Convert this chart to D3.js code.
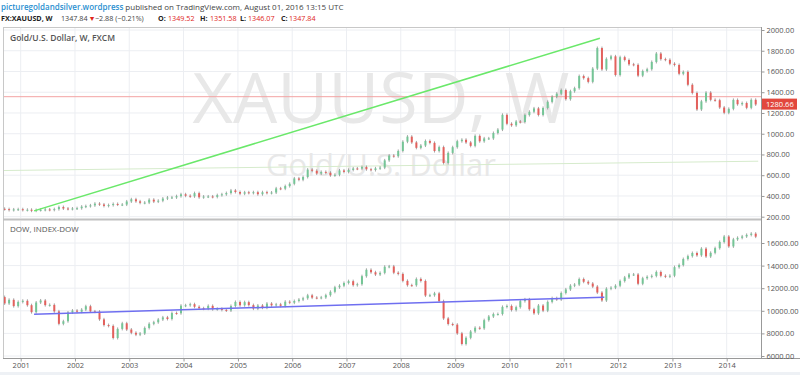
<!DOCTYPE html>
<html>
<head>
<meta charset="utf-8">
<title>XAUUSD vs DOW</title>
<script src="https://cdn.jsdelivr.net/npm/d3@7"></script>
<style>
body { margin: 0; background: #fff; font-family: "Open Sans", sans-serif; }
svg text { font-family: "Open Sans", sans-serif; }
</style>
</head>
<body>
<div id="chart"></div>
<script>

// monthly closes, first bar is Sep 2000
var firstMonth = [2000, 8];
var goldOpen0 = 276;
var goldClose = [
  273, 264, 270, 272,
  265, 267, 258, 264, 266, 270, 266, 273, 293, 279, 275, 279,
  282, 297, 302, 309, 326, 318, 304, 312, 323, 317, 317, 347,
  368, 348, 334, 336, 364, 346, 354, 375, 385, 386, 398, 416,
  402, 396, 427, 387, 394, 395, 391, 408, 416, 428, 453, 438,
  422, 435, 429, 436, 417, 436, 429, 433, 473, 470, 495, 517,
  569, 556, 583, 654, 643, 616, 632, 624, 599, 604, 646, 632,
  651, 665, 663, 679, 657, 650, 666, 673, 743, 789, 783, 834,
  923, 972, 916, 864, 886, 930, 912, 833, 871, 718, 815, 870,
  928, 942, 916, 883, 979, 927, 955, 955, 1007, 1040, 1182, 1096,
  1081, 1118, 1113, 1180, 1212, 1244, 1181, 1248, 1307, 1357, 1386, 1421,
  1333, 1410, 1439, 1556, 1536, 1500, 1628, 1826, 1620, 1722, 1746, 1566,
  1738, 1711, 1669, 1664, 1560, 1604, 1622, 1692, 1773, 1719, 1713, 1675,
  1663, 1578, 1596, 1472, 1393, 1234, 1312, 1396, 1327, 1323, 1253, 1202,
  1240, 1326, 1284, 1296, 1250, 1327, 1282
];

var dowOpen0 = 11215;
var dowClose = [
  10651, 10971, 10415, 10787,
  10887, 10495, 9879, 10735, 10912, 10502, 10523, 9950, 8848, 9075, 9852, 10022,
  9920, 10106, 10404, 9946, 9925, 9243, 8737, 8664, 7592, 8397, 8896, 8342,
  8054, 7891, 7992, 8480, 8850, 8985, 9234, 9416, 9275, 9801, 9782, 10454,
  10488, 10584, 10358, 10226, 10188, 10435, 10140, 10174, 10080, 10027, 10428, 10783,
  10490, 10766, 10504, 10193, 10467, 10275, 10641, 10482, 10569, 10440, 10806, 10718,
  10865, 10993, 11109, 11367, 11168, 11150, 11186, 11381, 11679, 12081, 12222, 12463,
  12622, 12269, 12354, 13063, 13628, 13409, 13212, 13358, 13896, 13930, 13372, 13265,
  12650, 12266, 12263, 12820, 12638, 11350, 11378, 11544, 10851, 9325, 8829, 8776,
  8001, 7063, 7609, 8168, 8500, 8447, 9172, 9496, 9712, 9713, 10345, 10428,
  10067, 10325, 10857, 11009, 10137, 9774, 10466, 10015, 10788, 11118, 11006, 11578,
  11892, 12226, 12320, 12811, 12570, 12414, 12143, 11614, 10913, 11955, 12046, 12218,
  12633, 12952, 13212, 13214, 12393, 12880, 13009, 13091, 13437, 13096, 13026, 13104,
  13861, 14054, 14579, 14840, 15116, 14910, 15500, 14810, 15130, 15546, 16086, 16577,
  15699, 16322, 16458, 16581, 16717, 16827, 16563
];

var years = [2001, 2002, 2003, 2004, 2005, 2006, 2007, 2008, 2009, 2010, 2011, 2012, 2013, 2014];
var goldTicks = [200, 400, 600, 800, 1000, 1200, 1400, 1600, 1800, 2000];
var dowTicks = [6000, 8000, 10000, 12000, 14000, 16000];

// drawn lines: [year, month, value]
var goldTrend = [[2001, 3, 256], [2011, 8, 1921]];
var goldFaint = [[2000, 8, 645], [2014, 7, 735]];
var goldLevel = 1357;
var dowTrend = [[2001, 3, 9700], [2011, 9, 11200]];
var lastGold = 1280.66;

var W = 800, H = 375;
var left = 3, right = 761;
var top1 = 27, bot1 = 218, top2 = 221, bot2 = 358;

var svg = d3.select("#chart").append("svg")
    .attr("width", W).attr("height", H);

svg.append("rect").attr("x", 0).attr("y", 372).attr("width", W).attr("height", 3).attr("fill", "#eef1f5");

var x = d3.scaleTime()
    .domain([new Date(2001, 0, 1), new Date(2014, 0, 1)])
    .range([20.7, 726.7]);
var y1 = d3.scaleLinear().domain([200, 2000]).range([216.7, 30]);
var y2 = d3.scaleLinear().domain([6000, 16000]).range([356, 243]);

function monthDate(i) { return new Date(firstMonth[0], firstMonth[1] + i, 15); }

// clip paths
var defs = svg.append("defs");
defs.append("clipPath").attr("id", "c1").append("rect")
    .attr("x", left).attr("y", top1).attr("width", right - left).attr("height", bot1 - top1);
defs.append("clipPath").attr("id", "c2").append("rect")
    .attr("x", left).attr("y", top2).attr("width", right - left).attr("height", bot2 - top2);

var p1 = svg.append("g").attr("clip-path", "url(#c1)");
var p2 = svg.append("g").attr("clip-path", "url(#c2)");

// grid
[[p1, y1, goldTicks, top1, bot1], [p2, y2, dowTicks, top2, bot2]].forEach(function(p) {
  p[0].selectAll(".vg").data(years).enter().append("line")
      .attr("x1", function(d) { return x(new Date(d, 0, 1)); })
      .attr("x2", function(d) { return x(new Date(d, 0, 1)); })
      .attr("y1", p[3]).attr("y2", p[4])
      .attr("stroke", "#eceef2").attr("stroke-width", 1);
  p[0].selectAll(".hg").data(p[2]).enter().append("line")
      .attr("x1", left).attr("x2", right)
      .attr("y1", function(d) { return p[1](d); })
      .attr("y2", function(d) { return p[1](d); })
      .attr("stroke", "#eceef2").attr("stroke-width", 1);
});

// watermark
p1.append("text").attr("x", 381).attr("y", 123).attr("text-anchor", "middle")
    .attr("font-size", 70).attr("fill", "#e8e8e8").text("XAUUSD, W");
p1.append("text").attr("x", 381).attr("y", 176).attr("text-anchor", "middle")
    .attr("font-size", 31).attr("fill", "#e8e8e8").text("Gold/U.S. Dollar");

function lineOf(pts, ys) {
  return d3.line()
    .x(function(d) { return x(new Date(d[0], d[1], 1)); })
    .y(function(d) { return ys(d[2]); })(pts);
}

p1.append("path").attr("d", lineOf(goldFaint, y1))
    .attr("stroke", "#d6ebcc").attr("stroke-width", 1).attr("fill", "none");
p1.append("line").attr("x1", left).attr("x2", right)
    .attr("y1", y1(goldLevel)).attr("y2", y1(goldLevel))
    .attr("stroke", "#f3a3a3").attr("stroke-width", 1);

// candles
function candles(g, close, open0, ys) {
  var bars = close.map(function(c, i) {
    return { date: monthDate(i), open: i ? close[i - 1] : open0, close: c };
  });
  g.selectAll(".wick").data(bars).enter().append("line")
      .attr("x1", function(d) { return x(d.date); })
      .attr("x2", function(d) { return x(d.date); })
      .attr("y1", function(d) { return ys(Math.max(d.open, d.close)) - 1.5; })
      .attr("y2", function(d) { return ys(Math.min(d.open, d.close)) + 1.5; })
      .attr("stroke", "#666").attr("stroke-width", 0.6);
  g.selectAll(".body").data(bars).enter().append("rect")
      .attr("x", function(d) { return x(d.date) - 1; })
      .attr("width", 2)
      .attr("y", function(d) { return ys(Math.max(d.open, d.close)); })
      .attr("height", function(d) { return Math.max(1, Math.abs(ys(d.open) - ys(d.close))); })
      .attr("fill", function(d) { return d.close >= d.open ? "#74c596" : "#e3605c"; });
}
candles(p1, goldClose, goldOpen0, y1);
candles(p2, dowClose, dowOpen0, y2);

p1.append("path").attr("d", lineOf(goldTrend, y1))
    .attr("stroke", "#6ae86a").attr("stroke-width", 1.5).attr("fill", "none");
p2.append("path").attr("d", lineOf(dowTrend, y2))
    .attr("stroke", "#6f6ff0").attr("stroke-width", 1.5).attr("fill", "none");

// frames
svg.append("rect").attr("x", left + 0.5).attr("y", top1 + 0.5)
    .attr("width", right - left).attr("height", bot2 - top1)
    .attr("fill", "none").attr("stroke", "#c8c8c8");
svg.append("line").attr("x1", left).attr("x2", right).attr("y1", 219.5).attr("y2", 219.5)
    .attr("stroke", "#c0c0c0").attr("stroke-width", 2);
svg.append("line").attr("x1", right + 0.5).attr("x2", right + 0.5).attr("y1", top1).attr("y2", bot2)
    .attr("stroke", "#999");
svg.append("line").attr("x1", left).attr("x2", W).attr("y1", bot2 + 0.5).attr("y2", bot2 + 0.5)
    .attr("stroke", "#999");

// price axes
var ax1 = d3.axisRight(y1).tickValues(goldTicks).tickSize(3).tickFormat(d3.format(".2f"));
var ax2 = d3.axisRight(y2).tickValues(dowTicks).tickSize(3).tickFormat(d3.format(".2f"));
[ax1, ax2].forEach(function(a) {
  var g = svg.append("g").attr("transform", "translate(" + (right + 0.5) + ",0)").call(a);
  g.select(".domain").remove();
  g.selectAll("line").attr("stroke", "#999");
  g.selectAll("text").attr("font-size", 7.5).attr("fill", "#555").attr("x", 5)
      .style("font-family", "Open Sans");
});

// last price label
var ly = y1(lastGold);
svg.append("rect").attr("x", right + 1).attr("y", ly - 6).attr("width", 35).attr("height", 11)
    .attr("fill", "#e2473d");
svg.append("text").attr("x", right + 5).attr("y", ly + 2.5).attr("font-size", 7.5)
    .attr("fill", "#fff").text(d3.format(".2f")(lastGold));

// time axis
var ax3 = d3.axisBottom(x).tickValues(years.map(function(d) { return new Date(d, 0, 1); }))
    .tickSize(3).tickFormat(d3.timeFormat("%Y"));
var gx = svg.append("g").attr("transform", "translate(0," + (bot2 + 0.5) + ")").call(ax3);
gx.select(".domain").remove();
gx.selectAll("line").attr("stroke", "#999");
gx.selectAll("text").attr("font-size", 7.5).attr("fill", "#555").attr("y", 4.5)
    .style("font-family", "Open Sans");

// pane titles
svg.append("text").attr("x", 10).attr("y", 41).attr("font-size", 8.5).attr("font-weight", 600)
    .attr("fill", "#555").text("Gold/U.S. Dollar, W, FXCM");
svg.append("text").attr("x", 10).attr("y", 232).attr("font-size", 8).attr("fill", "#555")
    .text("DOW, INDEX-DOW");

// header
var h1 = svg.append("text").attr("x", 1).attr("y", 10).attr("font-size", 8);
h1.append("tspan").attr("fill", "#2a8fd0").attr("font-weight", 600).text("picturegoldandsilver.wordpress");
h1.append("tspan").attr("fill", "#444").text(" published on TradingView.com, August 01, 2016 13:15 UTC");

var hdr = [
  ["FX:XAUUSD, W", 1, "#222", 700],
  ["1347.84", 61, "#444", 400],
  ["\u25BC", 88.5, "#e0261b", 400],
  ["\u22122.88 (\u22120.21%)", 95, "#444", 400],
  ["O:", 158, "#222", 700],
  ["1349.52", 168, "#e0261b", 400],
  ["H:", 200, "#222", 700],
  ["1351.58", 210, "#e0261b", 400],
  ["L:", 240, "#222", 700],
  ["1346.07", 248, "#e0261b", 400],
  ["C:", 281, "#222", 700],
  ["1347.84", 289, "#e0261b", 400]
];
svg.selectAll(".hdr").data(hdr).enter().append("text")
    .attr("x", function(d) { return d[1]; }).attr("y", 21)
    .attr("font-size", 7.2)
    .attr("fill", function(d) { return d[2]; })
    .attr("font-weight", function(d) { return d[3]; })
    .text(function(d) { return d[0]; });

</script>
</body>
</html>
